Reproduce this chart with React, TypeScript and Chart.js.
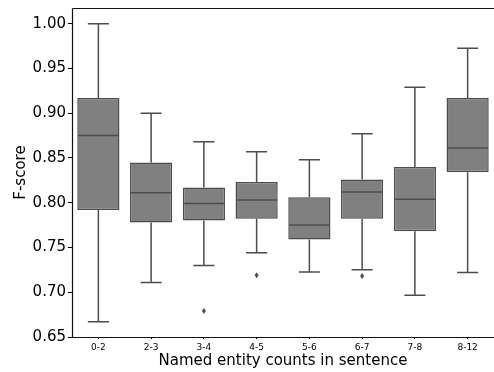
import React, { useEffect, useRef } from "react";
import { Chart, registerables } from "chart.js";

Chart.register(...registerables);

const categories = ["0-2", "2-3", "3-4", "4-5", "5-6", "6-7", "7-8", "8-12"];
const whiskerLow = [0.667, 0.711, 0.730, 0.744, 0.7225, 0.725, 0.6965, 0.722];
const q1 = [0.792, 0.778, 0.780, 0.782, 0.759, 0.782, 0.768, 0.834];
const median = [0.875, 0.811, 0.799, 0.803, 0.775, 0.812, 0.804, 0.861];
const q3 = [0.917, 0.845, 0.817, 0.823, 0.806, 0.826, 0.840, 0.917];
const whiskerHigh = [1.0, 0.9, 0.868, 0.857, 0.848, 0.877, 0.929, 0.9725];
const outliers: number[][] = [[], [], [0.679], [0.719], [], [0.718], [], []];
const yTicks = [0.65, 0.7, 0.75, 0.8, 0.85, 0.9, 0.95, 1.0];
const yMin = 0.65;
const yMax = 1.0175;

const LINE = "#4d4d4d";
const FILL = "#808080";

const boxPlugin = {
  id: "boxExtras",
  afterDatasetsDraw(chart: any) {
    const { ctx, chartArea, scales } = chart;
    const x = scales.x;
    const y = scales.y;
    const meta = chart.getDatasetMeta(0);
    ctx.save();
    ctx.strokeStyle = LINE;
    ctx.lineWidth = 1.5;
    categories.forEach((_, i) => {
      const bar = meta.data[i];
      const cx = x.getPixelForValue(i);
      const w = bar.width;
      const capHalf = w / 4;
      const yq1 = y.getPixelForValue(q1[i]);
      const yq3 = y.getPixelForValue(q3[i]);
      const ylo = y.getPixelForValue(whiskerLow[i]);
      const yhi = y.getPixelForValue(whiskerHigh[i]);
      const ymed = y.getPixelForValue(median[i]);
      ctx.beginPath();
      ctx.moveTo(cx, yq3);
      ctx.lineTo(cx, yhi);
      ctx.moveTo(cx - capHalf, yhi);
      ctx.lineTo(cx + capHalf, yhi);
      ctx.moveTo(cx, yq1);
      ctx.lineTo(cx, ylo);
      ctx.moveTo(cx - capHalf, ylo);
      ctx.lineTo(cx + capHalf, ylo);
      ctx.moveTo(cx - w / 2 + 0.75, ymed);
      ctx.lineTo(cx + w / 2 - 0.75, ymed);
      ctx.stroke();
      ctx.fillStyle = LINE;
      outliers[i].forEach((v) => {
        const py = y.getPixelForValue(v);
        ctx.beginPath();
        ctx.moveTo(cx, py - 3);
        ctx.lineTo(cx + 2, py);
        ctx.lineTo(cx, py + 3);
        ctx.lineTo(cx - 2, py);
        ctx.closePath();
        ctx.fill();
      });
    });
    ctx.strokeStyle = "#111";
    ctx.lineWidth = 1.2;
    ctx.beginPath();
    ctx.moveTo(chartArea.left + 0.5, chartArea.top + 0.5);
    ctx.lineTo(chart.width, chartArea.top + 0.5);
    ctx.moveTo(chartArea.left + 0.5, chartArea.top + 0.5);
    ctx.lineTo(chartArea.left + 0.5, chartArea.bottom + 0.5);
    ctx.lineTo(chart.width, chartArea.bottom + 0.5);
    ctx.stroke();
    ctx.restore();
  },
};

export default function App() {
  const ref = useRef<HTMLCanvasElement>(null);
  useEffect(() => {
    if (!ref.current) return;
    const chart = new Chart(ref.current, {
      type: "bar",
      data: {
        labels: categories,
        datasets: [
          {
            data: categories.map((_, i) => [q1[i], q3[i]]) as any,
            backgroundColor: FILL,
            borderColor: LINE,
            borderWidth: 1.5,
            borderSkipped: false,
            barPercentage: 0.8,
            categoryPercentage: 1.0,
          },
        ],
      },
      options: {
        responsive: false,
        animation: false,
        plugins: { legend: { display: false }, tooltip: { enabled: false } },
        layout: { padding: { top: 8, right: -1, left: 0, bottom: 0 } },
        scales: {
          x: {
            type: "category",
            grid: {
              display: true,
              offset: false,
              drawOnChartArea: false,
              drawTicks: true,
              tickLength: 2,
              color: "#000",
            },
            border: { display: false },
            ticks: {
              color: "#000",
              font: { family: "DejaVu Sans", size: 9 },
              padding: 3,
              maxRotation: 0,
            },
            title: {
              display: true,
              text: "Named entity counts in sentence",
              color: "#000",
              font: { family: "DejaVu Sans", size: 15 },
              padding: { top: 0, bottom: 2 },
            },
            afterFit: (s: any) => {
              s.height = 35;
              s.paddingLeft = 0;
              s.paddingRight = 0;
            },
          },
          y: {
            type: "linear",
            min: yMin,
            max: yMax,
            grid: {
              display: true,
              drawOnChartArea: false,
              drawTicks: true,
              tickLength: 4,
              color: "#000",
            },
            border: { display: false },
            ticks: {
              color: "#000",
              font: { family: "DejaVu Sans", size: 15 },
              padding: 2,
              callback: (v: any) => Number(v).toFixed(2),
            },
            afterBuildTicks: (s: any) => {
              s.ticks = yTicks.map((v) => ({ value: v }));
            },
            title: {
              display: true,
              text: "F-score",
              color: "#000",
              font: { family: "DejaVu Sans", size: 15 },
              padding: { top: 12.5, bottom: 0 },
            },
            afterFit: (s: any) => {
              s.width = 72;
              s.paddingTop = 0;
              s.paddingBottom = 0;
            },
          },
        },
      },
      plugins: [boxPlugin],
    });
    return () => chart.destroy();
  }, []);
  return (
    <div style={{ position: "fixed", left: 0, top: 0, width: 494, height: 372, background: "#fff", overflow: "hidden" }}>
      <canvas ref={ref} width={494} height={372} style={{ display: "block", width: 494, height: 372 }} />
    </div>
  );
}
